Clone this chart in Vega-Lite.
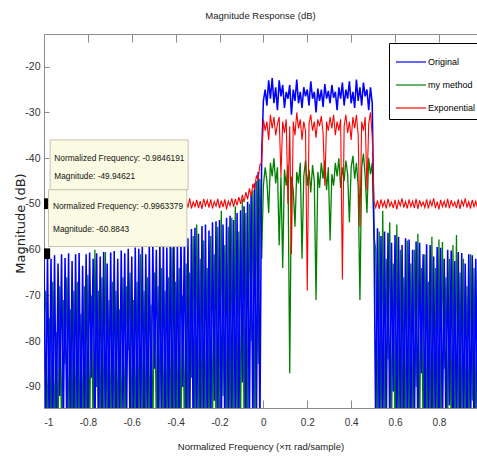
{
"$schema": "https://vega.github.io/schema/vega-lite/v6.json",
"width": 433, "height": 374,
"autosize": {"type": "none"},
"padding": {"left": 44, "top": 34, "right": 0, "bottom": 49},
"background": "white",
"title": {"text": "Magnitude Response (dB)", "font": "Liberation Sans", "fontSize": 9.5, "fontWeight": "normal", "color": "#222222", "offset": 13},
"config": {
  "view": {"stroke": "#8c8c8c", "strokeWidth": 1},
  "axis": {"grid": false, "domainColor": "#8c8c8c", "tickColor": "#8c8c8c", "labelColor": "#333333", "labelFont": "Liberation Sans", "labelFontSize": 10, "titleFont": "Liberation Sans", "titleFontWeight": "normal", "titleColor": "#222222"}
},
"datasets": {"resp": [
{"x":-1,"o":-61.5,"m":-75,"e":-50.6},
{"x":-0.992,"o":-100,"m":-69,"e":-49.3},
{"x":-0.984,"o":-60.9,"m":-100,"e":-49.95},
{"x":-0.976,"o":-100,"m":-75,"e":-49.1},
{"x":-0.968,"o":-62,"m":-100,"e":-50.9},
{"x":-0.96,"o":-100,"m":-67,"e":-49.4},
{"x":-0.952,"o":-61.2,"m":-100,"e":-51.1},
{"x":-0.944,"o":-100,"m":-78,"e":-48.9},
{"x":-0.936,"o":-63,"m":-100,"e":-50.7},
{"x":-0.928,"o":-92,"m":-68,"e":-49.5},
{"x":-0.92,"o":-61,"m":-100,"e":-50.5},
{"x":-0.912,"o":-100,"m":-71,"e":-49.0},
{"x":-0.904,"o":-61.8,"m":-85,"e":-51.2},
{"x":-0.896,"o":-100,"m":-66,"e":-49.6},
{"x":-0.888,"o":-60.8,"m":-100,"e":-50.4},
{"x":-0.88,"o":-100,"m":-73,"e":-48.8},
{"x":-0.872,"o":-62.5,"m":-100,"e":-50.9},
{"x":-0.864,"o":-100,"m":-69,"e":-49.3},
{"x":-0.856,"o":-61,"m":-100,"e":-51.0},
{"x":-0.848,"o":-100,"m":-67,"e":-49.1},
{"x":-0.84,"o":-60.7,"m":-100,"e":-50.6},
{"x":-0.832,"o":-100,"m":-74,"e":-49.7},
{"x":-0.824,"o":-63.5,"m":-100,"e":-50.8},
{"x":-0.816,"o":-100,"m":-68,"e":-48.9},
{"x":-0.808,"o":-61,"m":-100,"e":-51.1},
{"x":-0.8,"o":-100,"m":-65.5,"e":-49.4},
{"x":-0.792,"o":-60.6,"m":-100,"e":-50.3},
{"x":-0.784,"o":-88,"m":-70,"e":-49.0},
{"x":-0.776,"o":-62,"m":-100,"e":-50.9},
{"x":-0.768,"o":-100,"m":-60,"e":-49.5},
{"x":-0.76,"o":-60.8,"m":-90,"e":-51.2},
{"x":-0.752,"o":-100,"m":-69,"e":-48.8},
{"x":-0.744,"o":-61.5,"m":-100,"e":-50.5},
{"x":-0.736,"o":-100,"m":-66,"e":-49.6},
{"x":-0.728,"o":-60.5,"m":-100,"e":-50.8},
{"x":-0.72,"o":-100,"m":-60.5,"e":-49.2},
{"x":-0.712,"o":-63,"m":-100,"e":-51.0},
{"x":-0.704,"o":-100,"m":-71,"e":-49.0},
{"x":-0.696,"o":-60.6,"m":-100,"e":-50.4},
{"x":-0.688,"o":-100,"m":-67,"e":-49.4},
{"x":-0.68,"o":-60.3,"m":-100,"e":-50.9},
{"x":-0.672,"o":-100,"m":-69,"e":-48.9},
{"x":-0.664,"o":-62,"m":-100,"e":-51.1},
{"x":-0.656,"o":-100,"m":-73,"e":-49.5},
{"x":-0.648,"o":-60.2,"m":-100,"e":-50.6},
{"x":-0.64,"o":-95,"m":-66,"e":-49.1},
{"x":-0.632,"o":-60.8,"m":-100,"e":-50.3},
{"x":-0.624,"o":-100,"m":-68,"e":-49.3},
{"x":-0.616,"o":-59.8,"m":-82,"e":-51.0},
{"x":-0.608,"o":-100,"m":-65,"e":-48.8},
{"x":-0.6,"o":-61.5,"m":-100,"e":-50.7},
{"x":-0.592,"o":-100,"m":-71,"e":-49.6},
{"x":-0.584,"o":-59.5,"m":-100,"e":-50.9},
{"x":-0.576,"o":-100,"m":-67,"e":-49.0},
{"x":-0.568,"o":-59.8,"m":-100,"e":-51.2},
{"x":-0.56,"o":-100,"m":-61,"e":-49.4},
{"x":-0.552,"o":-59,"m":-100,"e":-50.5},
{"x":-0.544,"o":-100,"m":-69,"e":-49.2},
{"x":-0.536,"o":-61,"m":-100,"e":-50.8},
{"x":-0.528,"o":-100,"m":-66,"e":-48.9},
{"x":-0.52,"o":-58.7,"m":-100,"e":-51.0},
{"x":-0.512,"o":-100,"m":-72,"e":-49.5},
{"x":-0.504,"o":-58.5,"m":-100,"e":-50.4},
{"x":-0.496,"o":-86,"m":-65,"e":-49.0},
{"x":-0.488,"o":-60,"m":-100,"e":-50.9},
{"x":-0.48,"o":-100,"m":-68,"e":-49.3},
{"x":-0.472,"o":-58,"m":-95,"e":-51.1},
{"x":-0.464,"o":-100,"m":-64,"e":-48.8},
{"x":-0.456,"o":-57.8,"m":-100,"e":-50.6},
{"x":-0.448,"o":-100,"m":-69,"e":-49.6},
{"x":-0.44,"o":-59.5,"m":-100,"e":-50.8},
{"x":-0.432,"o":-100,"m":-66,"e":-49.1},
{"x":-0.424,"o":-57.3,"m":-100,"e":-51.0},
{"x":-0.416,"o":-100,"m":-59.5,"e":-49.4},
{"x":-0.408,"o":-57,"m":-100,"e":-50.3},
{"x":-0.4,"o":-100,"m":-67,"e":-48.9},
{"x":-0.392,"o":-58.5,"m":-100,"e":-50.9},
{"x":-0.384,"o":-100,"m":-64,"e":-49.5},
{"x":-0.376,"o":-56.4,"m":-100,"e":-51.2},
{"x":-0.368,"o":-90,"m":-70,"e":-49.0},
{"x":-0.36,"o":-56,"m":-100,"e":-50.5},
{"x":-0.352,"o":-100,"m":-63,"e":-49.3},
{"x":-0.344,"o":-57.5,"m":-100,"e":-50.8},
{"x":-0.336,"o":-100,"m":-65,"e":-48.8},
{"x":-0.328,"o":-55.5,"m":-88,"e":-51.0},
{"x":-0.32,"o":-100,"m":-57,"e":-49.6},
{"x":-0.312,"o":-55.2,"m":-100,"e":-50.6},
{"x":-0.304,"o":-100,"m":-54.5,"e":-49.1},
{"x":-0.296,"o":-56.5,"m":-100,"e":-50.9},
{"x":-0.288,"o":-100,"m":-62,"e":-49.4},
{"x":-0.28,"o":-54.8,"m":-100,"e":-51.1},
{"x":-0.272,"o":-100,"m":-58,"e":-48.9},
{"x":-0.264,"o":-54.5,"m":-100,"e":-50.4},
{"x":-0.256,"o":-100,"m":-64,"e":-49.2},
{"x":-0.248,"o":-55.8,"m":-100,"e":-50.8},
{"x":-0.24,"o":-100,"m":-57,"e":-49.0},
{"x":-0.232,"o":-54,"m":-100,"e":-51.0},
{"x":-0.224,"o":-93,"m":-61,"e":-49.5},
{"x":-0.216,"o":-53.8,"m":-100,"e":-50.5},
{"x":-0.208,"o":-100,"m":-55,"e":-48.9},
{"x":-0.2,"o":-53.5,"m":-100,"e":-50.9},
{"x":-0.192,"o":-100,"m":-51.5,"e":-49.3},
{"x":-0.184,"o":-54.5,"m":-92,"e":-50.7},
{"x":-0.176,"o":-100,"m":-59,"e":-49.0},
{"x":-0.168,"o":-53,"m":-100,"e":-51.2},
{"x":-0.16,"o":-100,"m":-55,"e":-49.4},
{"x":-0.152,"o":-52.6,"m":-100,"e":-50.4},
{"x":-0.144,"o":-100,"m":-53,"e":-48.8},
{"x":-0.136,"o":-53.5,"m":-100,"e":-50.6},
{"x":-0.128,"o":-100,"m":-50.5,"e":-48.9},
{"x":-0.12,"o":-52,"m":-100,"e":-50.3},
{"x":-0.112,"o":-100,"m":-56,"e":-48.5},
{"x":-0.104,"o":-51.4,"m":-100,"e":-50.0},
{"x":-0.096,"o":-89,"m":-49,"e":-48.0},
{"x":-0.088,"o":-50.5,"m":-100,"e":-49.6},
{"x":-0.08,"o":-100,"m":-52,"e":-47.4},
{"x":-0.072,"o":-49.5,"m":-100,"e":-49.0},
{"x":-0.064,"o":-100,"m":-50,"e":-46.6},
{"x":-0.056,"o":-48,"m":-80,"e":-48.3},
{"x":-0.048,"o":-100,"m":-47,"e":-45.6},
{"x":-0.04,"o":-45.5,"m":-100,"e":-46.8},
{"x":-0.032,"o":-100,"m":-45,"e":-43.9},
{"x":-0.024,"o":-43,"m":-85,"e":-44.6},
{"x":-0.016,"o":-100,"m":-44.5,"e":-41.5},
{"x":-0.008,"o":-39.5,"m":-62,"e":-41},
{"x":0,"o":-27.5,"m":-46,"e":-31.5},
{"x":0.008,"o":-25,"m":-42,"e":-34},
{"x":0.016,"o":-28.5,"m":-45,"e":-32},
{"x":0.024,"o":-23,"m":-52,"e":-36},
{"x":0.032,"o":-27,"m":-41,"e":-30.5},
{"x":0.04,"o":-22.5,"m":-44,"e":-33.5},
{"x":0.048,"o":-28,"m":-40,"e":-31},
{"x":0.056,"o":-24.5,"m":-45.5,"e":-35},
{"x":0.064,"o":-29.5,"m":-42,"e":-32.5},
{"x":0.072,"o":-23,"m":-59,"e":-31},
{"x":0.08,"o":-26.5,"m":-44,"e":-44},
{"x":0.088,"o":-24,"m":-64,"e":-32},
{"x":0.096,"o":-29,"m":-42.5,"e":-34.5},
{"x":0.104,"o":-25.5,"m":-46,"e":-31.5},
{"x":0.112,"o":-27,"m":-41.5,"e":-50},
{"x":0.12,"o":-24,"m":-87,"e":-33},
{"x":0.128,"o":-30.5,"m":-44,"e":-61},
{"x":0.136,"o":-25,"m":-47,"e":-32},
{"x":0.144,"o":-27.5,"m":-55,"e":-35},
{"x":0.152,"o":-22.8,"m":-43,"e":-30},
{"x":0.16,"o":-28,"m":-45.5,"e":-33.5},
{"x":0.168,"o":-25.5,"m":-41,"e":-31.5},
{"x":0.176,"o":-29,"m":-62,"e":-36},
{"x":0.184,"o":-24.5,"m":-44,"e":-32},
{"x":0.192,"o":-26.5,"m":-40.5,"e":-34},
{"x":0.2,"o":-25,"m":-46,"e":-69},
{"x":0.208,"o":-28.5,"m":-42.5,"e":-32.5},
{"x":0.216,"o":-23.2,"m":-47.5,"e":-30.5},
{"x":0.224,"o":-27,"m":-41.5,"e":-34},
{"x":0.232,"o":-25.5,"m":-45,"e":-32},
{"x":0.24,"o":-30,"m":-71,"e":-35.5},
{"x":0.248,"o":-24.8,"m":-43,"e":-31.5},
{"x":0.256,"o":-27.5,"m":-46.5,"e":-33},
{"x":0.264,"o":-25,"m":-41,"e":-30.8},
{"x":0.272,"o":-28.8,"m":-44.5,"e":-34.5},
{"x":0.28,"o":-23.8,"m":-40.5,"e":-46},
{"x":0.288,"o":-27,"m":-47,"e":-32},
{"x":0.296,"o":-25.3,"m":-42,"e":-34},
{"x":0.304,"o":-28,"m":-58,"e":-31},
{"x":0.312,"o":-24,"m":-43.5,"e":-33.5},
{"x":0.32,"o":-26.8,"m":-46,"e":-30.5},
{"x":0.328,"o":-25.5,"m":-41,"e":-35},
{"x":0.336,"o":-29.5,"m":-44,"e":-32},
{"x":0.344,"o":-24.5,"m":-40,"e":-34},
{"x":0.352,"o":-27,"m":-46.5,"e":-31.5},
{"x":0.36,"o":-23.5,"m":-42,"e":-66.5},
{"x":0.368,"o":-28.5,"m":-45,"e":-33},
{"x":0.376,"o":-25,"m":-40.5,"e":-30.5},
{"x":0.384,"o":-27,"m":-43.5,"e":-34.5},
{"x":0.392,"o":-23.2,"m":-54,"e":-32},
{"x":0.4,"o":-28,"m":-42,"e":-36},
{"x":0.408,"o":-25.5,"m":-39.5,"e":-31},
{"x":0.416,"o":-29,"m":-44.5,"e":-33.5},
{"x":0.424,"o":-22.8,"m":-41,"e":-30.5},
{"x":0.432,"o":-27.5,"m":-46,"e":-35},
{"x":0.44,"o":-24.5,"m":-71,"e":-55},
{"x":0.448,"o":-28.5,"m":-42,"e":-32},
{"x":0.456,"o":-23.5,"m":-39,"e":-34},
{"x":0.464,"o":-26.5,"m":-44,"e":-31},
{"x":0.472,"o":-25,"m":-52,"e":-47},
{"x":0.48,"o":-29.5,"m":-40,"e":-32.5},
{"x":0.488,"o":-24.5,"m":-43.5,"e":-30},
{"x":0.496,"o":-28,"m":-41,"e":-35},
{"x":0.504,"o":-55.5,"m":-57,"e":-49.5},
{"x":0.512,"o":-100,"m":-60,"e":-50.8},
{"x":0.52,"o":-55.3,"m":-100,"e":-49.2},
{"x":0.528,"o":-100,"m":-56,"e":-51.1},
{"x":0.536,"o":-57,"m":-100,"e":-49.0},
{"x":0.544,"o":-100,"m":-51.5,"e":-50.6},
{"x":0.552,"o":-56,"m":-100,"e":-49.4},
{"x":0.56,"o":-100,"m":-62,"e":-51.0},
{"x":0.568,"o":-56.3,"m":-84,"e":-48.9},
{"x":0.576,"o":-100,"m":-54,"e":-50.5},
{"x":0.584,"o":-58.5,"m":-100,"e":-49.6},
{"x":0.592,"o":-91,"m":-63,"e":-50.9},
{"x":0.6,"o":-56.8,"m":-100,"e":-49.1},
{"x":0.608,"o":-100,"m":-54.5,"e":-51.2},
{"x":0.616,"o":-57.2,"m":-100,"e":-49.3},
{"x":0.624,"o":-100,"m":-60,"e":-50.4},
{"x":0.632,"o":-59,"m":-100,"e":-48.8},
{"x":0.64,"o":-100,"m":-66,"e":-50.8},
{"x":0.648,"o":-57.5,"m":-100,"e":-49.5},
{"x":0.656,"o":-100,"m":-58,"e":-51.0},
{"x":0.664,"o":-57.8,"m":-100,"e":-49.0},
{"x":0.672,"o":-100,"m":-63,"e":-50.6},
{"x":0.68,"o":-60,"m":-100,"e":-49.4},
{"x":0.688,"o":-100,"m":-60,"e":-50.9},
{"x":0.696,"o":-58.2,"m":-90,"e":-48.9},
{"x":0.704,"o":-100,"m":-56.5,"e":-51.1},
{"x":0.712,"o":-58.5,"m":-100,"e":-49.2},
{"x":0.72,"o":-87,"m":-64,"e":-50.5},
{"x":0.728,"o":-61,"m":-100,"e":-49.6},
{"x":0.736,"o":-100,"m":-61,"e":-50.8},
{"x":0.744,"o":-58.8,"m":-100,"e":-49.0},
{"x":0.752,"o":-100,"m":-67,"e":-51.0},
{"x":0.76,"o":-59,"m":-100,"e":-49.3},
{"x":0.768,"o":-100,"m":-57.2,"e":-50.4},
{"x":0.776,"o":-61.5,"m":-100,"e":-48.8},
{"x":0.784,"o":-100,"m":-64,"e":-50.9},
{"x":0.792,"o":-59.4,"m":-100,"e":-49.5},
{"x":0.8,"o":-100,"m":-57.8,"e":-51.2},
{"x":0.808,"o":-59.6,"m":-100,"e":-49.1},
{"x":0.816,"o":-100,"m":-58.3,"e":-50.6},
{"x":0.824,"o":-62,"m":-86,"e":-49.4},
{"x":0.832,"o":-100,"m":-66,"e":-50.8},
{"x":0.84,"o":-60,"m":-100,"e":-48.9},
{"x":0.848,"o":-94,"m":-62,"e":-51.0},
{"x":0.856,"o":-60.2,"m":-100,"e":-49.2},
{"x":0.864,"o":-100,"m":-59,"e":-50.5},
{"x":0.872,"o":-62.5,"m":-100,"e":-49.6},
{"x":0.88,"o":-100,"m":-56.8,"e":-50.9},
{"x":0.888,"o":-60.5,"m":-100,"e":-49.0},
{"x":0.896,"o":-100,"m":-65,"e":-51.1},
{"x":0.904,"o":-60.7,"m":-100,"e":-49.3},
{"x":0.912,"o":-100,"m":-62,"e":-50.4},
{"x":0.92,"o":-63,"m":-100,"e":-48.8},
{"x":0.928,"o":-100,"m":-68,"e":-50.8},
{"x":0.936,"o":-61,"m":-100,"e":-49.5},
{"x":0.944,"o":-100,"m":-61,"e":-51.0},
{"x":0.952,"o":-61.2,"m":-93,"e":-49.1},
{"x":0.96,"o":-100,"m":-64,"e":-50.6},
{"x":0.968,"o":-62,"m":-100,"e":-49.4},
{"x":0.976,"o":-100,"m":-66,"e":-50.9}
]},
"layer": [
{
  "data": {"name": "resp"},
  "mark": {"type": "line", "clip": true, "strokeWidth": 1.3},
  "encoding": {
    "x": {"field": "x", "type": "quantitative", "scale": {"domain": [-1, 0.9736], "nice": false, "zero": false},
      "axis": {"orient": "bottom", "values": [-1,-0.8,-0.6,-0.4,-0.2,0,0.2,0.4,0.6,0.8], "labelExpr": "datum.value == 0 ? '0' : (datum.value < 0 ? '-' : '') + format(abs(datum.value), '~g')", "tickSize": -8, "labelPadding": 17, "labelFontSize": 10, "title": "Normalized Frequency (×π rad/sample)", "titleFontSize": 9.5, "titleY": 38, "titleBaseline": "middle"}},
    "y": {"field": "m", "type": "quantitative", "scale": {"domain": [-94.6, -12.86], "nice": false, "zero": false},
      "title": "Magnitude (dB)",
      "axis": {"orient": "left", "values": [-90,-80,-70,-60,-50,-40,-30,-20], "labelExpr": "'-' + format(abs(datum.value), 'd')", "tickSize": -5, "labelPadding": 9, "labelFontSize": 10.5, "titleFont": "DejaVu Sans", "titleFontSize": 13, "titleX": -24, "titleY": 189, "titleBaseline": "middle", "titleAlign": "center", "titleAngle": -90}},
    "color": {"datum": "my method", "type": "nominal",
      "scale": {"domain": ["Original", "my method", "Exponential"], "range": ["#0000ff", "#008000", "#ff0000"]},
      "legend": {"title": null, "orient": "none", "legendX": 345, "legendY": 9, "symbolType": "M-1,0H1.5", "symbolSize": 576, "symbolStrokeWidth": 1.2, "labelFont": "Liberation Sans", "labelFontSize": 9, "labelColor": "black", "labelOffset": 7, "strokeColor": "black", "fillColor": "white", "padding": 6, "rowPadding": 5, "labelLimit": 200}}
  }
},
{
  "data": {"name": "resp"},
  "mark": {"type": "line", "clip": true, "strokeWidth": 1.55},
  "encoding": {
    "x": {"field": "x", "type": "quantitative", "axis": {"orient": "top", "values": [-0.8,-0.6,-0.4,-0.2,0,0.2,0.4,0.6,0.8], "labels": false, "tickSize": -8, "title": null, "domain": false}},
    "y": {"field": "o", "type": "quantitative", "title": "Magnitude (dB)"},
    "color": {"datum": "Original", "type": "nominal"}
  }
},
{
  "data": {"name": "resp"},
  "mark": {"type": "line", "clip": true, "strokeWidth": 1.1},
  "encoding": {
    "x": {"field": "x", "type": "quantitative", "axis": null},
    "y": {"field": "e", "type": "quantitative", "title": "Magnitude (dB)"},
    "color": {"datum": "Exponential", "type": "nominal"}
  }
},
{
  "data": {"values": [{"x": -0.9846191, "y": -49.94621}, {"x": -0.9963379, "y": -60.8843}]},
  "mark": {"type": "point", "shape": "square", "filled": true, "color": "black", "size": 115, "opacity": 1, "clip": true},
  "encoding": {
    "x": {"field": "x", "type": "quantitative", "axis": null},
    "y": {"field": "y", "type": "quantitative", "title": "Magnitude (dB)"}
  }
},
{
  "data": {"values": [{"x": -0.972, "x2": -0.343, "y": -36.0, "y2": -46.9}, {"x": -0.9795, "x2": -0.349, "y": -46.9, "y2": -59.3}]},
  "mark": {"type": "rect", "fill": "#fbfbe3", "stroke": "#c4c4b0", "strokeWidth": 1},
  "encoding": {
    "x": {"field": "x", "type": "quantitative", "axis": null},
    "x2": {"field": "x2"},
    "y": {"field": "y", "type": "quantitative", "title": "Magnitude (dB)"},
    "y2": {"field": "y2"}
  }
},
{
  "data": {"values": [
    {"x": -0.953, "y": -40.1, "t": "Normalized Frequency: -0.9846191"},
    {"x": -0.953, "y": -44.2, "t": "Magnitude: -49.94621"},
    {"x": -0.959, "y": -50.6, "t": "Normalized Frequency: -0.9963379"},
    {"x": -0.959, "y": -55.6, "t": "Magnitude: -60.8843"}
  ]},
  "mark": {"type": "text", "align": "left", "baseline": "middle", "font": "Liberation Sans", "fontSize": 8.3, "color": "#111111"},
  "encoding": {
    "x": {"field": "x", "type": "quantitative", "axis": null},
    "y": {"field": "y", "type": "quantitative", "title": "Magnitude (dB)"},
    "text": {"field": "t"}
  }
}
],
"resolve": {"axis": {"x": "independent"}}
}
